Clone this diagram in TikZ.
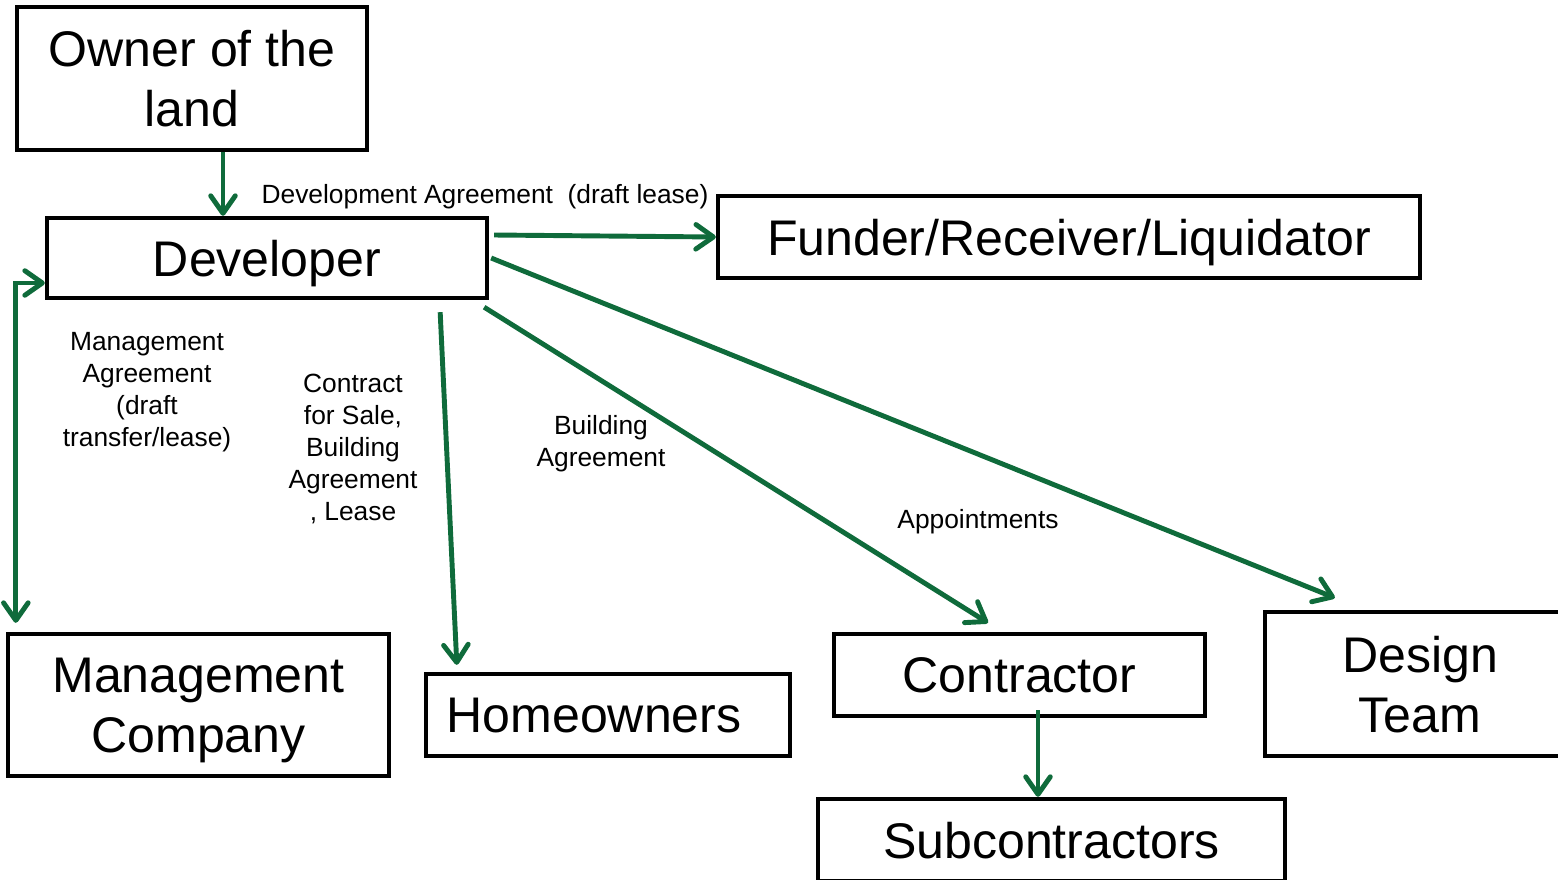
\documentclass[tikz,border=0pt]{standalone}
\usepackage{fontspec}
\setmainfont{Liberation Sans}
\usepackage{tikz}
\usetikzlibrary{arrows.meta,positioning,calc}
\definecolor{DGreen}{HTML}{0F6B3B}

\begin{document}
\begin{tikzpicture}[x=0.02cm,y=-0.02cm,
  box/.style={draw=black,rectangle,line width=2.5pt,fill=white,
    font=\fontsize{28.5}{34.2}\selectfont,align=center,inner sep=2pt,text depth=0pt},
  lbl/.style={font=\fontsize{15}{18.1}\selectfont,align=center,inner sep=0pt},
  arr/.style={-{Straight Barb[length=10pt,width=14pt,round]},line width=2.8pt,draw=DGreen},
  darr/.style={{Straight Barb[length=10pt,width=14pt,round]}-{Straight Barb[length=10pt,width=14pt,round]},line width=2.8pt,draw=DGreen}
]
\useasboundingbox (0,0) rectangle (1558,879);
% boxes
\node[box,minimum width=7cm,minimum height=2.86cm](owner) at (192,78.5){Owner of the\\land};
\node[box,minimum width=8.8cm,minimum height=1.6cm](dev) at (267,258){Developer};
\node[box,minimum width=14.04cm,minimum height=1.64cm](fund) at (1069,237){Funder/Receiver/Liquidator};
\node[box,minimum width=7.62cm,minimum height=2.84cm](mgmt) at (198.5,705){Management\\Company};
\node[box,minimum width=7.28cm,minimum height=1.64cm](home) at (608,715){Homeowners\hspace*{0.56cm}};
\node[box,minimum width=7.42cm,minimum height=1.64cm](cont) at (1019.5,675){Contractor};
\node[box,minimum width=6.2cm,minimum height=2.88cm](design) at (1420,684){Design\\Team};
\node[box,minimum width=9.34cm,minimum height=1.64cm](sub) at (1051.5,840){Subcontractors};
% labels
\node[lbl](devagr) at (485,197){Development Agreement~~(draft lease)};
\node[lbl](mgmtagr) at (147,392){Management\\Agreement\\(draft\\transfer/lease)};
\node[lbl](sale) at (353,449){Contract\\for Sale,\\Building\\Agreement\\, Lease};
\node[lbl](build) at (601,444){Building\\Agreement};
\node[lbl](appt) at (978,522){Appointments};
% connectors
\draw[arr]([xshift=0.62cm]owner.south)--([xshift=0.62cm]owner.south |- dev.north);
\draw[arr]([xshift=0.1cm,yshift=0.46cm]dev.east)--(fund.west);
\draw[darr]([xshift=0.2cm,yshift=0.18cm]mgmt.north west)|-([yshift=-0.5cm]dev.west);
\draw[arr]([xshift=-0.98cm,yshift=-0.24cm]dev.south east)--([xshift=0.66cm,yshift=0.14cm]home.north west);
\draw[arr]([xshift=-0.1cm,yshift=-0.14cm]dev.south east)--([xshift=-0.63cm,yshift=0.18cm]cont.north);
\draw[arr]([xshift=0.04cm]dev.east)--([xshift=1.44cm,yshift=0.24cm]design.north west);
\draw[arr]([xshift=0.37cm,yshift=0.16cm]cont.south)--([xshift=0.37cm]cont.south |- sub.north);
\end{tikzpicture}
\end{document}
